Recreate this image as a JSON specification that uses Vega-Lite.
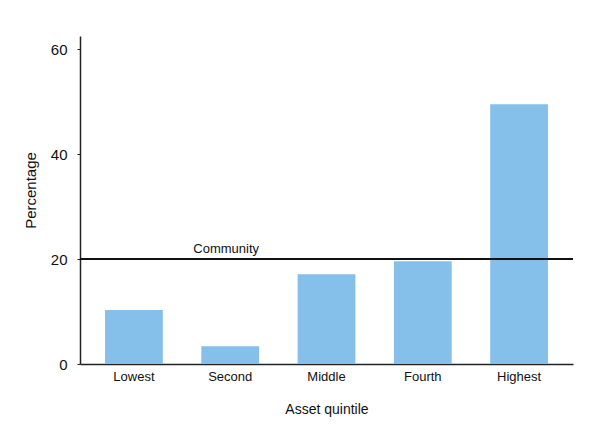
{
  "$schema": "https://vega.github.io/schema/vega-lite/v6.json",
  "autosize": "none",
  "width": 493,
  "height": 328,
  "padding": {"left": 80, "top": 36, "right": 27, "bottom": 67},
  "background": "white",
  "config": {
    "view": {"stroke": null},
    "font": "Liberation Sans",
    "axis": {"grid": false, "domainColor": "#222222", "domainWidth": 1.5, "labelColor": "#111111", "titleColor": "#111111", "labelFontSize": 13, "titleFontSize": 14, "titleFontWeight": "normal", "labelFont": "Liberation Sans", "titleFont": "Liberation Sans"}
  },
  "datasets": {
    "bars": [
      {"quintile": "Lowest", "percentage": 10.3},
      {"quintile": "Second", "percentage": 3.4},
      {"quintile": "Middle", "percentage": 17.1},
      {"quintile": "Fourth", "percentage": 19.6},
      {"quintile": "Highest", "percentage": 49.5}
    ],
    "reference": [
      {"label": "Community", "value": 20, "at": "Second"}
    ]
  },
  "layer": [
    {
      "data": {"name": "bars"},
      "mark": {"type": "bar", "color": "#84c0ea"},
      "encoding": {
        "x": {"field": "quintile", "type": "nominal",
              "scale": {"domain": ["Lowest", "Second", "Middle", "Fourth", "Highest"], "paddingInner": 0.4, "paddingOuter": 0.26},
              "axis": {"title": "Asset quintile", "labelAngle": 0, "ticks": false, "labelPadding": 6, "titlePadding": 19}},
        "y": {"field": "percentage", "type": "quantitative",
              "scale": {"domain": [0, 62.5], "nice": false},
              "axis": {"title": "Percentage", "titleFontSize": 15, "titleY": 154, "values": [0, 20, 40, 60], "labelFontSize": 15, "tickSize": 3, "tickColor": "#222222", "labelPadding": 10, "titlePadding": 12}}
      }
    },
    {
      "data": {"name": "reference"},
      "mark": {"type": "rule", "color": "#111111", "strokeWidth": 2},
      "encoding": {"y": {"field": "value", "type": "quantitative"}}
    },
    {
      "data": {"name": "reference"},
      "mark": {"type": "text", "fontSize": 13, "color": "#111111", "dy": -10, "dx": -4, "align": "center"},
      "encoding": {
        "x": {"field": "at", "type": "nominal"},
        "y": {"field": "value", "type": "quantitative"},
        "text": {"field": "label"}
      }
    }
  ]
}
